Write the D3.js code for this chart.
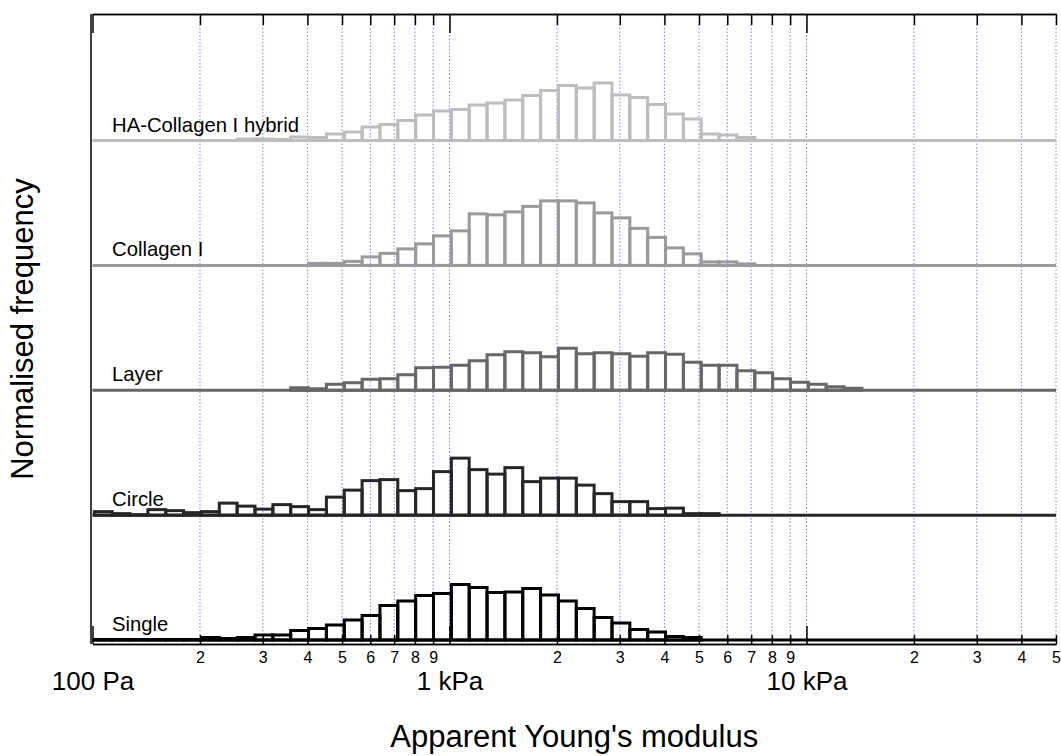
<!DOCTYPE html>
<html>
<head>
<meta charset="utf-8">
<script src="https://cdn.jsdelivr.net/npm/d3@7"></script>
<style>
  body { margin: 0; background: #fff; }
  svg { font-family: "Liberation Sans", Arial, sans-serif; }
</style>
</head>
<body>
<div id="chart"></div>
<script>
// Histogram binning (log10 bins, 20 per decade)
const firstEdge = 101.2; // Pa
const binsPerDecade = 20;

const seriesNames = ["HA-Collagen I hybrid", "Collagen I", "Layer", "Circle", "Single"];
const seriesColors = ["#bdbdbd", "#9a9a9a", "#676767", "#262626", "#000000"];

// normalised frequency per bin, from bin 0
const haCollagen = [0, 0, 0, 0, 0, 0, 0, 0, 0.3, 0.3, 0.2, 0.7, 0.6, 1.3, 1.7, 2.7, 3.2, 4.0, 5.1, 5.9,
  6.2, 7.1, 7.5, 8.1, 9.0, 10.0, 11.0, 10.5, 11.5, 9.1, 8.6, 7.2, 5.3, 4.3, 1.3, 1.1, 0.6];
const collagen = [0, 0, 0, 0, 0, 0, 0, 0, 0, 0, 0, 0, 0.4, 0.4, 0.8, 1.7, 2.4, 3.3, 4.3, 5.9,
  6.9, 10.3, 10.1, 10.7, 11.8, 12.9, 12.9, 12.5, 10.5, 9.5, 7.4, 5.6, 3.5, 2.3, 0.7, 0.7, 0.3];
const layer = [0, 0, 0, 0, 0, 0, 0, 0, 0, 0, 0, 0.5, 0.3, 1.2, 1.5, 2.2, 2.3, 3.1, 4.5, 4.6,
  5.0, 5.9, 7.1, 7.7, 7.5, 6.7, 8.4, 7.3, 7.5, 7.3, 6.8, 7.5, 7.2, 5.6, 5.0, 5.0, 3.9, 3.5, 2.3, 1.6,
  1.2, 0.7, 0.4];
const circle = [0.7, 0.3, 0.1, 1.1, 0.9, 0.5, 0.7, 2.4, 1.8, 1.2, 2.1, 1.7, 1.1, 3.6, 5.0, 6.9, 7.1, 4.9, 5.3, 8.7,
  11.4, 9.1, 8.2, 9.5, 6.7, 7.4, 7.4, 6.0, 4.3, 2.7, 2.7, 1.3, 1.4, 0.3, 0.3];
const single = [0.1, 0.1, 0.1, 0.1, 0.1, 0.1, 0.5, 0.3, 0.5, 1.0, 1.0, 1.9, 2.3, 3.0, 4.0, 4.9, 6.9, 7.8, 8.9, 9.3,
  11.1, 10.5, 9.5, 9.6, 10.3, 9.0, 7.8, 6.3, 4.5, 3.4, 2.1, 1.6, 0.7, 0.5];
const seriesValues = [haCollagen, collagen, layer, circle, single];

// Axis ticks
const minorTicks = [200, 300, 400, 500, 600, 700, 800, 900,
  2000, 3000, 4000, 5000, 6000, 7000, 8000, 9000,
  20000, 30000, 40000, 50000];
const minorLabels = ["2", "3", "4", "5", "6", "7", "8", "9",
  "2", "3", "4", "5", "6", "7", "8", "9",
  "2", "3", "4", "5"];
const majorTicks = [100, 1000, 10000];
const majorLabels = ["100 Pa", "1 kPa", "10 kPa"];

const width = 1061, height = 756;
const plotTop = 14, plotBottom = 644;

const svg = d3.select("#chart").append("svg")
  .attr("width", width)
  .attr("height", height);

const x = d3.scaleLog().domain([100, 50000]).range([92.5, 1056]);
const base = d3.scalePoint().domain(seriesNames).range([140.5, 640]);
const h = d3.scaleLinear().domain([0, 25]).range([0, 125]);

const edge = (i) => firstEdge * Math.pow(10, i / binsPerDecade);

// Gridlines
svg.append("g")
  .selectAll("line")
  .data(minorTicks.concat([1000, 10000]))
  .enter()
  .append("line")
  .attr("x1", (d) => x(d))
  .attr("x2", (d) => x(d))
  .attr("y1", plotTop)
  .attr("y2", plotBottom)
  .attr("stroke", "#7f7fff")
  .attr("stroke-width", 1)
  .attr("stroke-dasharray", "1.5,2");

// Histograms
const series = svg.selectAll(".series")
  .data(seriesNames)
  .enter()
  .append("g")
  .attr("class", "series");

series.append("line")
  .attr("x1", x(100))
  .attr("x2", x(50000))
  .attr("y1", (d) => base(d))
  .attr("y2", (d) => base(d))
  .attr("stroke", (d, i) => seriesColors[i])
  .attr("stroke-width", 3);

series.each(function (name, si) {
  const bins = seriesValues[si]
    .map((v, i) => ({ v: v, i: i }))
    .filter((b) => b.v > 0);
  d3.select(this)
    .selectAll("rect")
    .data(bins)
    .enter()
    .append("rect")
    .attr("x", (b) => x(edge(b.i)))
    .attr("width", (b) => x(edge(b.i + 1)) - x(edge(b.i)))
    .attr("y", (b) => base(name) - h(b.v))
    .attr("height", (b) => h(b.v))
    .attr("fill", "none")
    .attr("stroke", seriesColors[si])
    .attr("stroke-width", 3);
});

series.append("text")
  .attr("x", 112)
  .attr("y", (d) => base(d) - 9)
  .attr("font-size", 20.3)
  .attr("fill", "#000")
  .text((d) => d);

// Axes
const axisStyle = (g) => {
  g.select(".domain").attr("stroke", "#000").attr("stroke-width", 1.5);
  g.selectAll(".tick line").attr("stroke", "#000").attr("stroke-width", 1.5);
};

svg.append("g")
  .attr("transform", `translate(0,${plotBottom})`)
  .call(d3.axisBottom(x).tickValues(minorTicks).tickSize(-9).tickSizeOuter(0)
    .tickPadding(8).tickFormat((d, i) => minorLabels[i]))
  .call(axisStyle)
  .call((g) => g.selectAll("text").attr("font-size", 16).attr("font-family", null).attr("fill", "#000"));

svg.append("g")
  .attr("transform", `translate(0,${plotBottom})`)
  .call(d3.axisBottom(x).tickValues(majorTicks).tickSize(-18).tickSizeOuter(0)
    .tickPadding(28).tickFormat((d, i) => majorLabels[i]))
  .call(axisStyle)
  .call((g) => g.selectAll("text").attr("font-size", 26).attr("font-family", null).attr("fill", "#000"));

svg.append("g")
  .attr("transform", `translate(0,${plotTop})`)
  .call(d3.axisTop(x).tickValues(minorTicks).tickSize(-11).tickSizeOuter(0).tickFormat(""))
  .call(axisStyle);

svg.append("g")
  .attr("transform", `translate(0,${plotTop})`)
  .call(d3.axisTop(x).tickValues(majorTicks).tickSize(-19).tickSizeOuter(0).tickFormat(""))
  .call(axisStyle);

svg.append("line")
  .attr("x1", 91).attr("x2", 91)
  .attr("y1", plotTop).attr("y2", plotBottom)
  .attr("stroke", "#000")
  .attr("stroke-width", 1.5);

// Axis titles
svg.append("text")
  .attr("x", (x(100) + x(50000)) / 2)
  .attr("y", 747)
  .attr("text-anchor", "middle")
  .attr("font-size", 31)
  .text("Apparent Young's modulus");

svg.append("text")
  .attr("transform", `translate(33,${(plotTop + plotBottom) / 2}) rotate(-90)`)
  .attr("text-anchor", "middle")
  .attr("font-size", 31)
  .text("Normalised frequency");
</script>
</body>
</html>
